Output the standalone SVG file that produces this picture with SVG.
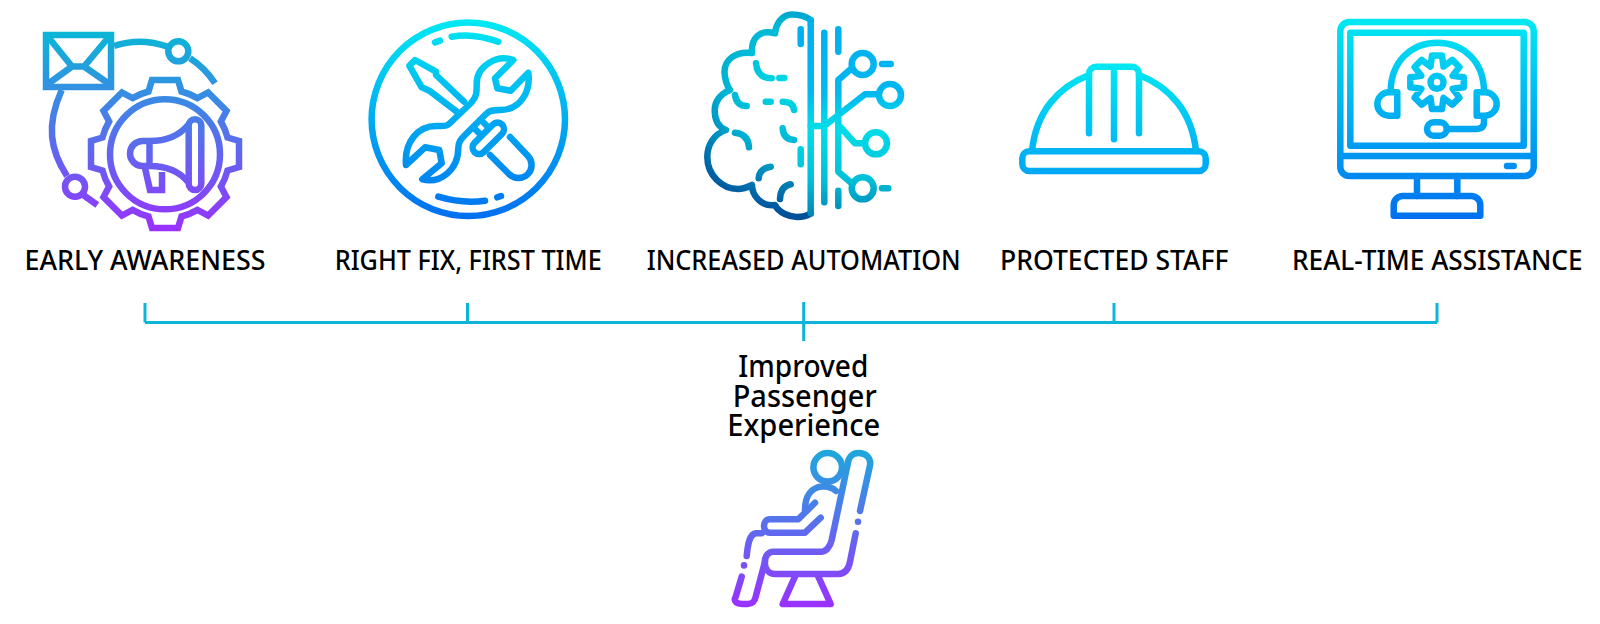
<svg xmlns="http://www.w3.org/2000/svg" width="1600" height="624" viewBox="0 0 1600 624">
<style>
.s{fill:none;stroke-width:6.5;stroke-linecap:round;stroke-linejoin:round}
.b{stroke-linecap:butt;stroke-linejoin:miter}
.g1{stroke:url(#g1)}.g2{stroke:url(#g2)}.g3{stroke:url(#g3)}.g3r{stroke:url(#g3r)}.g4{stroke:url(#g4)}.g5{stroke:url(#g5)}.g6{stroke:url(#g6)}
.lab{font-family:"Noto Sans","Liberation Sans",sans-serif;font-weight:500;font-size:27px;fill:#000;text-anchor:start}
.lab2{font-family:"Noto Sans","Liberation Sans",sans-serif;font-weight:500;font-size:30px;fill:#000;text-anchor:start}
.c{fill:none;stroke:#0cb5d8;stroke-width:3}
</style>
<defs>
<linearGradient id="g1" gradientUnits="userSpaceOnUse" x1="0" y1="30" x2="0" y2="232"><stop offset="0" stop-color="#08b8d6"/><stop offset="1" stop-color="#9b30ff"/></linearGradient>
<linearGradient id="g2" gradientUnits="userSpaceOnUse" x1="0" y1="20" x2="0" y2="219"><stop offset="0" stop-color="#00e9f2"/><stop offset="1" stop-color="#006ff0"/></linearGradient>
<radialGradient id="g3" gradientUnits="userSpaceOnUse" cx="788" cy="85" r="128"><stop offset="0" stop-color="#00dde8"/><stop offset="0.5" stop-color="#00b4d4"/><stop offset="1" stop-color="#00509a"/></radialGradient>
<linearGradient id="g3r" gradientUnits="userSpaceOnUse" x1="0" y1="15" x2="0" y2="220"><stop offset="0" stop-color="#00aeef"/><stop offset="0.38" stop-color="#00b8f0"/><stop offset="0.55" stop-color="#00dde8"/><stop offset="0.8" stop-color="#00c0d8"/><stop offset="1" stop-color="#0080b0"/></linearGradient>
<linearGradient id="g4" gradientUnits="userSpaceOnUse" x1="0" y1="63" x2="0" y2="175"><stop offset="0" stop-color="#00e9f2"/><stop offset="1" stop-color="#00a6f4"/></linearGradient>
<linearGradient id="g5" gradientUnits="userSpaceOnUse" x1="0" y1="19" x2="0" y2="219"><stop offset="0" stop-color="#00e9f2"/><stop offset="1" stop-color="#006ff0"/></linearGradient>
<linearGradient id="g6" gradientUnits="userSpaceOnUse" x1="0" y1="450" x2="0" y2="608"><stop offset="0" stop-color="#1ea8dc"/><stop offset="1" stop-color="#9b30ff"/></linearGradient>
</defs>

<g id="connectors">
<path class="c" d="M145 322.5H1437M145 303V322.5M467.5 303V322.5M1114 303V322.5M1437 303V322.5M803.7 302V341"/>
</g>

<g id="early-awareness">
<g class="s b g1">
<rect x="46" y="35" width="65" height="52"/>
<path d="M49 38L72 66.5H84L108 38M48.500 83.500L72 66.500M84 66.500L108.500 83.500"/>
<path d="M114 46Q140 37 168 46.700M190 58.300Q205 68 215 83.300M61.700 90C46 125 50 150 67 176M83.300 195L97.300 205"/>
<circle cx="178.300" cy="51.300" r="10"/>
<circle cx="75" cy="186.700" r="10"/>
<path d="M148.500 91.500L152 80H178L181.500 91.500A63 63 0 0 1 197.500 98.100L208.100 92.500L226.500 110.900L220.900 121.500A63 63 0 0 1 227.500 137.500L239 141V167L227.500 170.500A63 63 0 0 1 220.900 186.500L226.500 197.100L208.100 215.500L197.500 209.900A63 63 0 0 1 181.500 216.500L178 228H152L148.500 216.500A63 63 0 0 1 132.500 209.900L121.900 215.500L103.500 197.100L109.100 186.500A63 63 0 0 1 102.500 170.500L91 167V141L102.500 137.500A63 63 0 0 1 109.100 121.500L103.500 110.900L121.900 92.500L132.500 98.100A63 63 0 0 1 148.500 91.500Z"/>
<circle cx="165" cy="154.300" r="55"/>
<rect x="188.700" y="119.300" width="12.600" height="70.700" rx="6.300"/>
<path d="M188 125Q175 141 149.500 141H142.500A12.500 12.500 0 0 0 142.500 166H149.500Q175 166 188 182M149.500 141V166M145 168L150 190H162V172"/>
</g>
</g>

<g id="right-fix">
<g class="s g2">
<circle cx="468.300" cy="119.300" r="96.700"/>
<path d="M451.700 36.700Q473 32.500 498.300 41.700M435 42.300L440 40.700M438.300 196.700Q463 204 485 200.700M497.300 197.300L501 196"/>
<path d="M513.300 60C497 54 476.700 66 476.700 83.300C476.700 92 477 97 471 103L449 124C446 127 442 126 436 126C418 126 404 142 406 165L425 147.300L439.300 150L441.700 163.300L422.300 179.300C440 184 458.300 170 458.300 148C458.300 142 461 139 465 135L486 114C490 110 494 110 500 110C520 110 531 92 528.300 72.700L510.700 90.700L497.300 88.300L495 78.300Z"/>
<path d="M464 101.700L436 75V71.700L415 60L409.300 65.700L421.700 87.300L429.300 90.700L456.700 111.700"/>
<rect x="468.800" y="131.800" width="39" height="13" rx="6.500" transform="rotate(-45 488.300 138.300)"/>
<path d="M490 155L509 174A13 13 0 0 0 528 156L510 137"/>
<path d="M476 130L480 134M484 123L488 127"/>
</g>
</g>

<g id="increased-automation">
<g class="s g3">
<path d="M810.700 20C804 15 798 14.500 792 14.500C782 14.500 776 24 775 33.300C760 29 751 38 752 53C735 51 724.500 60 724.500 72C725 80 727 86 730 90C720 94 714.700 102 714.700 110C714.700 120 718 127 726 130C714 134 707.300 145 707.300 157C707.300 175 722 189 738 189C743 189 748 187 752 185C752 196 762 207 775 205C779 213 790 217 797 217C802 217 807 216 810.700 213.500"/>
<path d="M756 63.300Q757.300 78.300 771.700 78.300M779.300 78H784.300M735 95Q736.700 106 746.700 106M765.700 101.700H770.700M782.700 101.700Q793.300 101.700 794 110M782.700 128.300Q783.300 139.300 794 140M735 132.700Q748.300 134 749 147.300M770.700 166.700Q759.300 168.300 758.700 178.300M790.700 184.300Q780.700 186 780 199"/>
</g>
<g class="s g3r">
<path d="M810.700 20V213.500M800.700 29.300V44M800.700 149.300V164.300"/>
<path d="M824.300 32.700V202.300M838.300 29.300V51.700M838.300 190.700V206M810.700 126H824.300L865 94.300H878.300M851.700 68.300L838.300 80V171.700L851.700 183.300M840 126.700L855 143.300H865M882 64H890.700M882 188.300H888.300"/>
<circle cx="890" cy="95" r="11"/>
<circle cx="862.700" cy="64" r="11"/>
<circle cx="862.700" cy="188.300" r="11"/>
<circle cx="876" cy="143.300" r="11"/>
</g>
</g>

<g id="protected-staff">
<g class="s g4">
<rect x="1022.300" y="151.300" width="183.400" height="19.700" rx="7"/>
<path d="M1032 151C1036 112 1058 87 1089 75M1139 75C1170 87 1192 112 1196 151"/>
<path d="M1089 133.300V74A7.300 7.300 0 0 1 1096.300 66.700H1131.700A7.300 7.300 0 0 1 1139 74V133.300M1114 66.700V139.300"/>
</g>
</g>

<g id="real-time-assistance">
<g class="s g5">
<rect x="1340.300" y="22" width="193.400" height="154" rx="9"/>
<rect x="1350.300" y="32.700" width="173.400" height="113"/>
<path d="M1340.300 156H1533.700M1507 166H1513.700M1417 176V196M1457.300 176V196"/>
<path d="M1393.700 215.700V205A9 9 0 0 1 1402.700 196H1471.300A9 9 0 0 1 1480.300 205V215.700Z"/>
<path d="M1390.700 91.700C1390.700 62 1411 42.700 1437.300 42.700S1484 62 1484 91.700"/>
<path d="M1397.300 92.300V115.700H1389A11.700 11.700 0 0 1 1389 92.300ZM1476.700 92.300V115.700H1485A11.700 11.700 0 0 0 1485 92.300ZM1484 116.700V122Q1484 129 1476 129H1448.300"/>
<rect x="1427" y="122.300" width="19.700" height="13.400" rx="6.700"/>
<circle cx="1437" cy="82.300" r="6.500"/>
<path d="M1432 55.600H1442L1443.500 66.600L1452.300 59.900L1459.400 67L1452.700 75.800L1463.700 77.300V87.300L1452.700 88.800L1459.400 97.600L1452.300 104.700L1443.500 98L1442 109H1432L1430.500 98L1421.700 104.700L1414.600 97.600L1421.300 88.800L1410.300 87.300V77.300L1421.300 75.800L1414.600 67L1421.700 59.900L1430.500 66.600Z"/>
</g>
</g>

<g id="improved-passenger-experience">
<g class="s g6">
<circle cx="827.700" cy="467.300" r="14.300"/>
<path d="M860 511L869.700 466.700C872 458 866 453 858.500 453C852 453 848 458 847.500 465L831.700 540C830 547 826 551.700 821.700 551.700H773.300C761.700 551.700 761.700 574 775 574H838.300C846.700 574 849 567 850 561.700L855.700 533.300"/>
<path d="M815 502.700L798.300 519.300H770C762 519.300 762 532.700 770 532.700H805L820.700 517.700"/>
<path d="M836 491C833 488 828 486 822 486.500C812 487.500 805 495 805 510"/>
<path d="M761.700 533.300H756C750 534 748 542 746.700 556M741.700 576.700L735.700 596.700C733 602 737 604 743 604H748C752 604 755 601 755.700 596.700L765 561.700"/>
<path d="M795 576.700L782.700 604H830.700L818.300 576.700"/>
<path d="M858 521.700V521.800M744 565.300V565.400"/>
</g>
</g>

<g id="labels">
<text class="lab" x="24.500" y="270" textLength="241" lengthAdjust="spacingAndGlyphs">EARLY AWARENESS</text>
<text class="lab" x="334.700" y="270" textLength="267" lengthAdjust="spacingAndGlyphs">RIGHT FIX, FIRST TIME</text>
<text class="lab" x="646.700" y="270" textLength="314" lengthAdjust="spacingAndGlyphs">INCREASED AUTOMATION</text>
<text class="lab" x="1000" y="270" textLength="228.500" lengthAdjust="spacingAndGlyphs">PROTECTED STAFF</text>
<text class="lab" x="1292" y="270" textLength="290.500" lengthAdjust="spacingAndGlyphs">REAL-TIME ASSISTANCE</text>
<text class="lab2"><tspan x="738.300" y="376.700" textLength="130" lengthAdjust="spacingAndGlyphs">Improved</tspan><tspan x="732.700" y="406.700" textLength="144" lengthAdjust="spacingAndGlyphs">Passenger</tspan><tspan x="727.300" y="436" textLength="153" lengthAdjust="spacingAndGlyphs">Experience</tspan></text>
</g>
</svg>
